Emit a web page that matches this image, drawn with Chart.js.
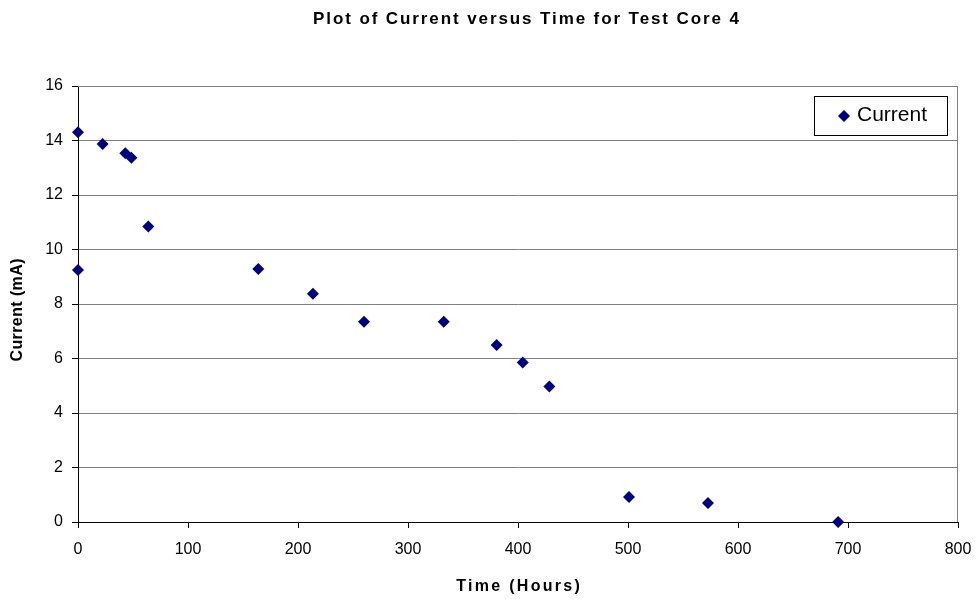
<!DOCTYPE html>
<html>
<head>
<meta charset="utf-8">
<script src="https://cdn.jsdelivr.net/npm/chart.js@4.4.1/dist/chart.umd.min.js"></script>
<style>
  html, body { margin: 0; padding: 0; background: #fff; }
  #wrap { width: 976px; height: 599px; }
</style>
</head>
<body>
<div id="wrap"><canvas id="myChart" width="976" height="599"></canvas></div>
<script>
'use strict';

let hours = [0, 0, 22.4, 43, 48.5, 63.9, 163.9, 213.6, 260, 332.5, 380.6, 404.3, 428.5, 500.9, 572.7, 691];
let current = [14.3, 9.25, 13.87, 13.53, 13.37, 10.84, 9.28, 8.38, 7.35, 7.35, 6.5, 5.85, 4.97, 0.92, 0.7, 0];
let seriesName = 'Current';
let chartTitle = 'Plot of Current versus Time for Test Core 4';
let xTitle = 'Time (Hours)';
let yTitle = 'Current (mA)';

let points = [];
for (let i = 0; i < hours.length; i++) {
  points.push({ x: hours[i], y: current[i] });
}

let navy = '#000080';
let fontFam = '"Liberation Sans", Arial, sans-serif';

// excel spreads its bold titles out a bit, so text is drawn here with letterSpacing
function spacedText(ctx, txt, x, y, font, spacing, angle) {
  ctx.save();
  ctx.font = font;
  ctx.letterSpacing = spacing + 'px';
  ctx.fillStyle = '#000';
  ctx.textAlign = 'center';
  ctx.textBaseline = 'middle';
  ctx.translate(x, y);
  if (angle) ctx.rotate(angle);
  ctx.fillText(txt, spacing / 2, 0);
  ctx.restore();
}

let boxPlugin = {
  id: 'boxPlugin',
  beforeDatasetsDraw(chart) {
    let a = chart.chartArea;
    let ctx = chart.ctx;
    ctx.save();
    ctx.strokeStyle = '#808080';
    ctx.lineWidth = 1;
    ctx.beginPath();
    ctx.moveTo(a.left, a.top + 0.5);
    ctx.lineTo(a.right - 0.5, a.top + 0.5);
    ctx.lineTo(a.right - 0.5, a.bottom);
    ctx.stroke();
    ctx.restore();
  },
  afterDraw(chart) {
    let ctx = chart.ctx;
    let a = chart.chartArea;
    spacedText(ctx, chartTitle, 526, 19, 'bold 17px ' + fontFam, 1.9);
    spacedText(ctx, xTitle, (a.left + a.right) / 2, 587, 'bold 16px ' + fontFam, 2.3);
    spacedText(ctx, yTitle, 18, (a.top + a.bottom) / 2 + 6, 'bold 16px ' + fontFam, 0.4, -Math.PI / 2);

    // legend
    ctx.save();
    ctx.fillStyle = '#fff';
    ctx.fillRect(814, 96, 133, 39);
    ctx.strokeStyle = '#000';
    ctx.lineWidth = 1;
    ctx.strokeRect(814.5, 96.5, 133, 39);
    ctx.fillStyle = navy;
    ctx.beginPath();
    ctx.moveTo(844, 110);
    ctx.lineTo(850, 116);
    ctx.lineTo(844, 122);
    ctx.lineTo(838, 116);
    ctx.closePath();
    ctx.fill();
    ctx.fillStyle = '#000';
    ctx.font = '21px ' + fontFam;
    ctx.textBaseline = 'middle';
    ctx.fillText(chart.data.datasets[0].label, 857, 115);
    ctx.restore();
  }
};

let ctx = document.getElementById('myChart').getContext('2d');

let myChart = new Chart(ctx, {
  type: 'scatter',
  data: {
    datasets: [{
      label: seriesName,
      data: points,
      backgroundColor: navy,
      borderColor: navy,
      pointStyle: 'rectRot',
      pointRadius: 6,
      pointHoverRadius: 6,
      borderWidth: 0,
      clip: false
    }]
  },
  options: {
    responsive: false,
    animation: false,
    events: [],
    layout: { padding: { top: 86, right: 18, bottom: 0, left: 0 } },
    plugins: {
      legend: { display: false },
      tooltip: { enabled: false },
      title: { display: false }
    },
    scales: {
      x: {
        type: 'linear',
        min: 0,
        max: 800,
        ticks: {
          stepSize: 100,
          color: '#000',
          padding: 12,
          font: { family: fontFam, size: 16 }
        },
        grid: { drawOnChartArea: false, drawTicks: true, tickLength: 6, color: '#000' },
        border: { color: '#000', width: 1 },
        afterFit(scale) {
          scale.height = 77;
          scale.paddingLeft = 0;
          scale.paddingRight = 0;
        }
      },
      y: {
        min: 0,
        max: 16,
        ticks: {
          stepSize: 2,
          color: '#000',
          padding: 9,
          font: { family: fontFam, size: 16 }
        },
        grid: { color: '#808080', tickColor: '#000', tickLength: 6, drawTicks: true },
        border: { color: '#000', width: 1 },
        afterFit(scale) {
          scale.width = 78;
          scale.paddingTop = 0;
          scale.paddingBottom = 0;
        }
      }
    }
  },
  plugins: [boxPlugin]
});
</script>
</body>
</html>
